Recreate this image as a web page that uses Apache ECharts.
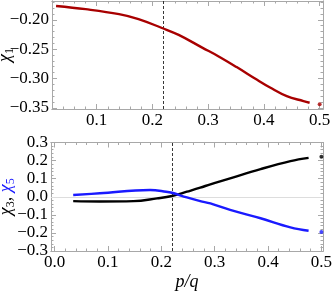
<!DOCTYPE html>
<html><head><meta charset="utf-8">
<script src="https://cdn.jsdelivr.net/npm/echarts@6/dist/echarts.min.js"></script>
<style>html,body{margin:0;padding:0;background:#fff}#c{width:332px;height:291px}</style>
</head><body><div id="c"></div>
<script>
// ---- data ----
const chi1X = [0.027, 0.08, 0.14, 0.175, 0.217, 0.247, 0.29, 0.318, 0.351, 0.387, 0.411, 0.441, 0.471, 0.482];
const chi1Y = [-0.1764, -0.1819, -0.1904, -0.1988, -0.2140, -0.2258, -0.2478, -0.2620, -0.2806, -0.3019, -0.3154, -0.3301, -0.3385, -0.3414];
const chi1End = [0.5, -0.3441];

const chi3X = [0.035, 0.085, 0.148, 0.192, 0.22, 0.248, 0.273, 0.292, 0.329, 0.386, 0.442, 0.476];
const chi3Y = [-0.024, -0.026, -0.024, -0.009, 0.004, 0.028, 0.050, 0.069, 0.102, 0.153, 0.197, 0.215];
const chi3End = [0.5, 0.221];

const chi5X = [0.035, 0.085, 0.179, 0.209, 0.22, 0.248, 0.273, 0.292, 0.329, 0.386, 0.442, 0.476];
const chi5Y = [0.0094, 0.019, 0.037, 0.028, 0.022, -0.004, -0.024, -0.037, -0.073, -0.119, -0.169, -0.188];
const chi5End = [0.5, -0.195];

const vLine = 0.218;

const topXTicks = [0.1, 0.2, 0.3, 0.4, 0.5];
const topYTicks = [-0.35, -0.30, -0.25, -0.20];
const botXTicks = [0.0, 0.1, 0.2, 0.3, 0.4, 0.5];
const botYTicks = [-0.3, -0.2, -0.1, 0.0, 0.1, 0.2, 0.3];

// ---- helpers ----
const FONT = 'Liberation Serif';
const FRAME = '#a8a8a8';
function range(a, b, s) { const r = []; for (let v = a; v <= b + 1e-9; v += s) r.push(+v.toFixed(4)); return r; }
function fmt(v, d) { const s = Math.abs(v).toFixed(d); return (v < -1e-9 ? '\u2212' : '') + s; }

function axis(kind, grid, min, max, pos, ticks, len, labels, dec, extra) {
  const a = {
    type: 'value', gridIndex: grid, min: min, max: max, position: pos,
    splitLine: { show: false },
    axisLine: { show: true, onZero: false, lineStyle: { color: FRAME, width: 1 } },
    axisTick: { show: true, inside: true, length: len, customValues: ticks, lineStyle: { color: FRAME, width: 1 } },
    axisLabel: labels ? {
      show: true, customValues: ticks, formatter: v => fmt(v, dec),
      fontFamily: FONT, fontSize: 17, color: '#000', margin: 3
    } : { show: false }
  };
  return Object.assign(a, extra || {});
}

const xAxes = [], yAxes = [];
// grid 0 (top)
const tXmin = 0.0197, tXmax = 0.506, tYmin = -0.352, tYmax = -0.168;
xAxes.push(axis('x', 0, tXmin, tXmax, 'bottom', topXTicks, 5, true, 1));
xAxes.push(axis('x', 0, tXmin, tXmax, 'bottom', range(0.02, 0.5, 0.02), 2.5, false));
xAxes.push(axis('x', 0, tXmin, tXmax, 'top', topXTicks, 5, false));
xAxes.push(axis('x', 0, tXmin, tXmax, 'top', range(0.02, 0.5, 0.02), 2.5, false));
yAxes.push(axis('y', 0, tYmin, tYmax, 'left', topYTicks, 5, true, 2, {
  name: '{c|\u03c7}{s|1}', nameLocation: 'middle', nameGap: 36, nameRotate: 90, nameMoveOverlap: false,
  nameTextStyle: { rich: {
    c: { fontFamily: FONT, fontStyle: 'italic', fontSize: 18, color: '#000', lineHeight: 22, verticalAlign: 'middle' },
    s: { fontFamily: FONT, fontSize: 12, color: '#000', lineHeight: 22, verticalAlign: 'bottom', padding: [6, 0, 0, 0] }
  } }
}));
yAxes.push(axis('y', 0, tYmin, tYmax, 'left', range(-0.35, -0.17, 0.01), 2.5, false));
yAxes.push(axis('y', 0, tYmin, tYmax, 'right', topYTicks, 5, false));
yAxes.push(axis('y', 0, tYmin, tYmax, 'right', range(-0.35, -0.17, 0.01), 2.5, false));

// grid 1 (bottom)
const bXmin = -0.0066, bXmax = 0.503, bYmin = -0.3, bYmax = 0.3;
xAxes.push(axis('x', 1, bXmin, bXmax, 'bottom', botXTicks, 5, true, 1, {
  name: 'p/q', nameLocation: 'middle', nameGap: 22, nameMoveOverlap: false,
  nameTextStyle: { fontFamily: FONT, fontStyle: 'italic', fontSize: 18, color: '#000' }
}));
xAxes.push(axis('x', 1, bXmin, bXmax, 'bottom', range(0, 0.5, 0.02), 2.5, false));
xAxes.push(axis('x', 1, bXmin, bXmax, 'top', botXTicks, 5, false));
xAxes.push(axis('x', 1, bXmin, bXmax, 'top', range(0, 0.5, 0.02), 2.5, false));
yAxes.push(axis('y', 1, bYmin, bYmax, 'left', botYTicks, 5, true, 1, {
  name: '{c|\u03c7}{s|3}{c|, }{b|\u03c7}{t|5}', nameLocation: 'middle', nameGap: 34, nameRotate: 90, nameMoveOverlap: false,
  nameTextStyle: { rich: {
    c: { fontFamily: FONT, fontStyle: 'italic', fontSize: 18, color: '#000', lineHeight: 22, verticalAlign: 'middle' },
    s: { fontFamily: FONT, fontSize: 12, color: '#000', lineHeight: 22, verticalAlign: 'bottom', padding: [6, 0, 0, 0] },
    b: { fontFamily: FONT, fontStyle: 'italic', fontSize: 18, color: '#1a1aff', lineHeight: 22, verticalAlign: 'middle' },
    t: { fontFamily: FONT, fontSize: 12, color: '#1a1aff', lineHeight: 22, verticalAlign: 'bottom', padding: [6, 0, 0, 0] }
  } }
}));
yAxes.push(axis('y', 1, bYmin, bYmax, 'left', range(-0.3, 0.3, 0.02), 2.5, false));
yAxes.push(axis('y', 1, bYmin, bYmax, 'right', botYTicks, 5, false));
yAxes.push(axis('y', 1, bYmin, bYmax, 'right', range(-0.3, 0.3, 0.02), 2.5, false));

const zip = (xs, ys) => xs.map((x, i) => [x, ys[i]]);
const RED = '#a80000', BLUE = '#1a1aff', BLACK = '#000';
function lineS(xi, yi, data, color, extra) {
  return Object.assign({
    type: 'line', xAxisIndex: xi, yAxisIndex: yi, data: data, smooth: 0.4,
    showSymbol: false, silent: true, lineStyle: { color: color, width: 2.4 }, z: 5
  }, extra || {});
}
function dotS(xi, yi, pt, color) {
  return { type: 'scatter', xAxisIndex: xi, yAxisIndex: yi, data: [pt], symbol: 'circle', symbolSize: 4,
    itemStyle: { color: color }, silent: true, z: 6 };
}
const dashML = { silent: true, symbol: 'none', label: { show: false },
  lineStyle: { color: '#222', type: [3, 2], width: 0.9 }, data: [{ xAxis: vLine }] };

const option = {
  animation: false,
  grid: [
    { left: 52, top: 1, width: 271, height: 108, containLabel: false, outerBoundsMode: 'none' },
    { left: 51, top: 142.5, width: 272, height: 108.5, containLabel: false, outerBoundsMode: 'none' }
  ],
  xAxis: xAxes,
  yAxis: yAxes,
  series: [
    lineS(0, 0, zip(chi1X, chi1Y), RED, { markLine: dashML }),
    dotS(0, 0, chi1End, RED),
    lineS(4, 4, zip(chi3X, chi3Y), BLACK, {
      markLine: { silent: true, symbol: 'none', label: { show: false },
        data: [
          { xAxis: vLine, lineStyle: { color: '#222', type: [3, 2], width: 0.9 } },
          { yAxis: 0, lineStyle: { color: '#dddddd', type: 'solid', width: 1 } }
        ] }
    }),
    dotS(4, 4, chi3End, BLACK),
    lineS(4, 4, zip(chi5X, chi5Y), BLUE),
    dotS(4, 4, chi5End, BLUE)
  ]
};
echarts.init(document.getElementById('c'), null, { renderer: 'canvas' }).setOption(option);
</script>
</body></html>
